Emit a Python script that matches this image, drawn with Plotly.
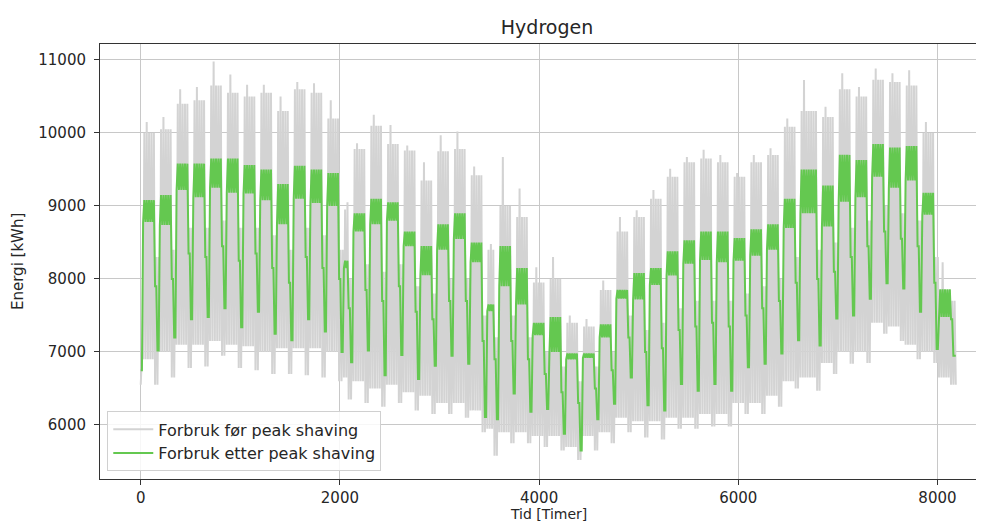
import plotly.graph_objects as go

# ---- data (weekly cycles; day index of each weekly low) ----
sunday_day = [7, 14, 21, 28, 35, 42, 49, 56, 63, 70,
              77, 84, 88, 95, 102, 109, 116, 123, 130, 137,
              144, 149, 156, 163, 170, 177, 184, 191, 198, 205,
              212, 219, 226, 233, 240, 247, 254, 261, 268, 275,
              284, 291, 298, 305, 312, 319, 326, 333, 340]

# green: after peak shaving (kWh)
green_hi = [9080, 9150, 9580, 9580, 9650, 9650, 9560, 9500, 9300, 9550,
            9500, 9450, 8250, 8900, 9100, 9050, 8650, 8450, 8750, 8900,
            8500, 7650, 8450, 8150, 7400, 7480, 6980, 6980, 7380, 7850,
            8080, 8150, 8380, 8530, 8650, 8650, 8560, 8680, 8750, 9100,
            9500, 9280, 9700, 9630, 9850, 9800, 9820, 9180, 7860]
green_lo = [8780, 8740, 9220, 9120, 9250, 9180, 9170, 9080, 8750, 9100,
            9040, 9000, 8150, 8650, 8750, 8800, 8450, 8050, 8400, 8550,
            8230, 7560, 7900, 7650, 7230, 7000, 6900, 6920, 7200, 7730,
            7720, 7920, 8050, 8210, 8260, 8230, 8250, 8320, 8400, 8700,
            8900, 8720, 9060, 9120, 9400, 9250, 9350, 8880, 7480]
green_sat = [7900, 8000, 8350, 8300, 8450, 8250, 8350, 8150, 7950, 8300,
             8150, 8000, 7600, 7850, 7700, 7900, 7550, 7450, 7700, 7700,
             7150, 6900, 7150, 6900, 6700, 6450, 6300, 6500, 6750, 7200,
             7000, 7050, 7300, 7350, 7400, 7350, 7500, 7600, 7700, 7950,
             8000, 8100, 8300, 8450, 8650, 8550, 8450, 7950, 7450]
green_sun = [7020, 7200, 7450, 7480, 7600, 7340, 7550, 7250, 7160, 7450,
             7280, 7000, 6860, 7020, 6680, 6960, 6630, 6810, 6950, 6840,
             6110, 6080, 6430, 6180, 6220, 5880, 5650, 6080, 6290, 6650,
             6270, 6200, 6560, 6470, 6560, 6470, 6790, 6840, 6980, 7160,
             7090, 7460, 7500, 7730, 7940, 7870, 7550, 7040, 6950]

# grey: before peak shaving (kWh)
grey_peak = [10000, 10050, 10400, 10450, 10650, 10550, 10500, 10550, 10300, 10600,
             10550, 10200, 8950, 9780, 10100, 9850, 9760, 9350, 9750, 9780,
             9420, 8400, 9000, 8850, 7950, 8000, 7400, 7350, 7850, 8650,
             8850, 9100, 9400, 9600, 9650, 9600, 9400, 9600, 9700, 10085,
             10300, 10220, 10600, 10500, 10730, 10700, 10650, 10000, 7850]
grey_max = [10150, 10220, 10600, 10630, 10980, 10800, 10660, 10660, 10500, 10700,
            10680, 10450, 9050, 9860, 10250, 10110, 9830, 9600, 9970, 10020,
            9540, 8480, 9670, 9240, 8160, 8300, 7500, 7450, 7980, 8850,
            8940, 9220, 9510, 9670, 9770, 9700, 9450, 9700, 9790, 10200,
            10725, 10360, 10820, 10630, 10885, 10820, 10860, 10150, 8230]
grey_night = [6900, 7000, 7100, 7100, 7150, 7100, 7080, 7000, 7050, 7050,
              7050, 7000, 6650, 6600, 6500, 6550, 6450, 6400, 6300, 6300,
              6200, 5950, 5900, 5900, 5850, 5850, 5700, 5850, 5900, 6100,
              6050, 6050, 6100, 6100, 6150, 6150, 6300, 6300, 6400, 6600,
              6650, 6850, 7000, 7000, 7400, 7350, 7100, 7000, 6650]
grey_we_high = [8300, 8400, 8700, 8700, 8800, 8700, 8700, 8600, 8400, 8700,
                8600, 8400, 8000, 8200, 8100, 8200, 7900, 7800, 8000, 8000,
                7500, 7200, 7500, 7200, 7000, 6800, 6600, 6800, 7000, 7500,
                7300, 7400, 7600, 7700, 7700, 7700, 7800, 7900, 8000, 8300,
                8400, 8500, 8700, 8800, 9000, 8900, 8800, 8300, 7700]
grey_we_low = [6550, 6650, 6780, 6800, 6950, 6780, 6750, 6700, 6700, 6680,
               6650, 6600, 6350, 6300, 6250, 6300, 6200, 6150, 6150, 6100,
               5900, 5580, 5750, 5750, 5700, 5650, 5520, 5650, 5750, 5900,
               5830, 5800, 5950, 5950, 5980, 5980, 6150, 6150, 6250, 6500,
               6470, 6700, 6840, 6850, 7250, 7150, 6900, 6850, 6550]

# first day (holiday)
first_green = 6750
first_grey_low = 6550
first_grey_high = 6950

x_ticks = [0, 2000, 4000, 6000, 8000]
y_ticks = [6000, 7000, 8000, 9000, 10000, 11000]

# ---- expand the weekly readings into a time series (hours) ----
hg, vg, hr, vr = [], [], [], []
hg += [0, 12]; vg += [first_green, first_green]
hr += [0, 12]; vr += [first_grey_low, first_grey_high]
prev = 0
for i, s in enumerate(sunday_day):
    days = list(range(prev + 1, s + 1))
    weekdays = days[:-2]
    for j, d in enumerate(weekdays):
        hg += [d * 24, d * 24 + 12]; vg += [green_lo[i], green_hi[i]]
        pk = grey_max[i] if j == 1 else grey_peak[i]
        hr += [d * 24, d * 24 + 12]; vr += [grey_night[i], pk]
    for d, gv in ((days[-2], green_sat[i]), (days[-1], green_sun[i])):
        hg += [d * 24, d * 24 + 12]; vg += [gv, gv]
        hr += [d * 24, d * 24 + 12]; vr += [grey_we_low[i], grey_we_high[i]]
    prev = s
end_h = (sunday_day[-1] + 1) * 24
hg.append(end_h); vg.append(green_sun[-1])
hr.append(end_h); vr.append(grey_we_low[-1])

FONT = "DejaVu Sans"
TXT = "#262626"
W, H = 968, 514          # page body keeps an 8 px margin -> fits the 984x530 window
ML, MT, MB = 92, 36, 43  # plot area: page x 100..976, page y 44..479
PH = H - MT - MB

fig = go.Figure()
fig.add_trace(go.Scatter(x=hr, y=vr, mode="lines", name="Forbruk før peak shaving",
                         line=dict(color="#d3d3d3", width=2)))
fig.add_trace(go.Scatter(x=hg, y=vg, mode="lines", name="Forbruk etter peak shaving",
                         line=dict(color="#64c850", width=2)))

fig.update_layout(
    width=W, height=H,
    margin=dict(l=ML, r=0, t=MT, b=MB, autoexpand=False),
    paper_bgcolor="white", plot_bgcolor="white",
    font=dict(family=FONT, size=15, color=TXT),
    title=dict(text="Hydrogen", font=dict(size=19, color=TXT),
               xref="container", x=539 / W, xanchor="center",
               yref="container", y=1 - 19 / H, yanchor="middle"),
    showlegend=True,
    legend=dict(x=0.0083, y=0.0175, xanchor="left", yanchor="bottom",
                bgcolor="rgba(255,255,255,0.85)", bordercolor="#d0d0d0", borderwidth=1,
                font=dict(size=16), tracegroupgap=0, itemwidth=40),
    annotations=[
        dict(text="Tid [Timer]", xref="paper", yref="paper",
             x=(540 - ML) / (W - ML), y=-(506 - (MT + PH)) / PH,
             xanchor="center", yanchor="middle", showarrow=False,
             font=dict(size=14, color=TXT)),
        dict(text="Energi [kWh]", xref="paper", yref="paper",
             x=(10 - ML) / (W - ML), y=((MT + PH) - 254) / PH,
             xanchor="center", yanchor="middle", showarrow=False, textangle=-90,
             font=dict(size=15, color=TXT)),
    ],
)
fig.update_xaxes(range=[-409, 8387], tickvals=x_ticks, tickformat="d", automargin=False,
                 showgrid=True, gridcolor="#c8c8c8", gridwidth=1, zeroline=False,
                 showline=True, linecolor="#333333", linewidth=1, mirror=True,
                 ticks="outside", ticklen=5, tickcolor="#333333",
                 tickfont=dict(size=15))
fig.update_yaxes(range=[5260, 11219], tickvals=y_ticks, tickformat="d", automargin=False,
                 showgrid=True, gridcolor="#c8c8c8", gridwidth=1, zeroline=False,
                 showline=True, linecolor="#333333", linewidth=1, mirror=False,
                 ticks="outside", ticklen=5, tickcolor="#333333",
                 ticklabelstandoff=5, tickfont=dict(size=15))

fig.write_html("out.html")
